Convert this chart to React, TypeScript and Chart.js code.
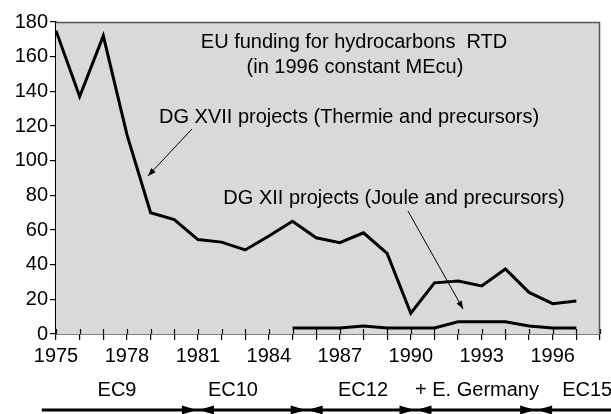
import React, { useEffect, useRef } from "react";
import { Chart, registerables } from "chart.js";

Chart.register(...registerables);

// ---- data ----
const yearsXVII = [1975, 1976, 1977, 1978, 1979, 1980, 1981, 1982, 1983, 1984, 1985, 1986, 1987, 1988, 1989, 1990, 1991, 1992, 1993, 1994, 1995, 1996, 1997];
const valuesXVII = [175, 137, 172, 115, 70, 66, 54.5, 53, 48.5, 56.5, 65, 55.5, 52.7, 58.4, 46.5, 12, 29.5, 30.6, 27.7, 37.5, 24, 17.5, 19];
const yearsXII = [1985, 1986, 1987, 1988, 1989, 1990, 1991, 1992, 1993, 1994, 1995, 1996, 1997];
const valuesXII = [3.5, 3.5, 3.5, 4.6, 3.5, 3.5, 3.5, 7, 7, 7, 4.6, 3.5, 3.5];
const labelYears = [1975, 1978, 1981, 1984, 1987, 1990, 1993, 1996];

const titleLines = ["EU funding for hydrocarbons  RTD", "(in 1996 constant MEcu)"];
const titleX = [1987.6, 1987.64];
const titleY = [167.9, 153.5];
const seriesLabels = ["DG XVII projects (Thermie and precursors)", "DG XII projects (Joule and precursors)"];
const seriesLabelX = [1987.39, 1989.29];
const seriesLabelY = [125.2, 77.9];
const arrowFromX = [1980.75, 1989.88];
const arrowFromY = [118.3, 71.0];
const arrowToX = [1978.89, 1992.21];
const arrowToY = [91.2, 14.4];

const eraNames = ["EC9", "EC10", "EC12", "+ E. Germany", "EC15"];
const eraLabelX = [1977.58, 1982.48, 1987.98, 1992.8, 1996.4];
const eraBoundaries = [1981.0, 1985.6, 1990.2, 1995.3];
const eraStart = 1974.4;

const FONT = '20px "Liberation Sans", Arial, sans-serif';

function arrowHead(ctx: CanvasRenderingContext2D, x1: number, y1: number, x2: number, y2: number, len: number, half: number) {
  const a = Math.atan2(y2 - y1, x2 - x1);
  ctx.beginPath();
  ctx.moveTo(x2, y2);
  ctx.lineTo(x2 - len * Math.cos(a) + half * Math.sin(a), y2 - len * Math.sin(a) - half * Math.cos(a));
  ctx.lineTo(x2 - len * Math.cos(a) - half * Math.sin(a), y2 - len * Math.sin(a) + half * Math.cos(a));
  ctx.closePath();
  ctx.fill();
}

const decorPlugin = {
  id: "decor",
  beforeDatasetsDraw(chart: any) {
    const { ctx, chartArea } = chart;
    const xs = chart.scales.x;
    ctx.save();
    ctx.fillStyle = "#d9d9d9";
    ctx.fillRect(chartArea.left, chartArea.top, chartArea.right - chartArea.left, chartArea.bottom - chartArea.top);
    // inner x ticks
    ctx.strokeStyle = "#000";
    ctx.lineWidth = 1.2;
    for (let yr = 1975; yr <= 1998; yr++) {
      const px = Math.round(xs.getPixelForValue(yr)) + 0.5;
      ctx.beginPath();
      ctx.moveTo(px, chartArea.bottom - 5);
      ctx.lineTo(px, chartArea.bottom);
      ctx.stroke();
    }
    // top & right border
    ctx.strokeStyle = "#555";
    ctx.lineWidth = 1.5;
    ctx.beginPath();
    ctx.moveTo(chartArea.left, chartArea.top + 0.5);
    ctx.lineTo(chartArea.right - 0.5, chartArea.top + 0.5);
    ctx.lineTo(chartArea.right - 0.5, chartArea.bottom);
    ctx.stroke();
    ctx.restore();
  },
  afterDraw(chart: any) {
    const { ctx, chartArea } = chart;
    const xs = chart.scales.x;
    const ys = chart.scales.y;
    ctx.save();
    ctx.fillStyle = "#000";
    ctx.font = FONT;
    ctx.textAlign = "center";
    ctx.textBaseline = "middle";
    titleLines.forEach((t, i) => ctx.fillText(t, xs.getPixelForValue(titleX[i]), ys.getPixelForValue(titleY[i])));
    seriesLabels.forEach((t, i) => ctx.fillText(t, xs.getPixelForValue(seriesLabelX[i]), ys.getPixelForValue(seriesLabelY[i])));
    // annotation arrows
    ctx.strokeStyle = "#000";
    ctx.lineWidth = 1;
    for (let i = 0; i < arrowFromX.length; i++) {
      const x1 = xs.getPixelForValue(arrowFromX[i]);
      const y1 = ys.getPixelForValue(arrowFromY[i]);
      const x2 = xs.getPixelForValue(arrowToX[i]);
      const y2 = ys.getPixelForValue(arrowToY[i]);
      ctx.beginPath();
      ctx.moveTo(x1, y1);
      ctx.lineTo(x2, y2);
      ctx.stroke();
      arrowHead(ctx, x1, y1, x2, y2, 8, 3);
    }
    // era labels
    const labelY = chartArea.bottom + 56;
    eraNames.forEach((t, i) => {
      ctx.textAlign = i === eraNames.length - 1 ? "left" : "center";
      ctx.fillText(t, xs.getPixelForValue(eraLabelX[i]), labelY);
    });
    // era arrows
    const ay = chartArea.bottom + 76;
    ctx.lineWidth = 3;
    ctx.beginPath();
    ctx.moveTo(xs.getPixelForValue(eraStart), ay);
    ctx.lineTo(chart.width, ay);
    ctx.stroke();
    eraBoundaries.forEach((b) => {
      const bx = xs.getPixelForValue(b);
      ctx.beginPath();
      ctx.moveTo(bx - 1, ay);
      ctx.lineTo(bx - 16, ay - 4.5);
      ctx.lineTo(bx - 16, ay + 4.5);
      ctx.closePath();
      ctx.fill();
      ctx.beginPath();
      ctx.moveTo(bx + 1, ay);
      ctx.lineTo(bx + 16, ay - 4.5);
      ctx.lineTo(bx + 16, ay + 4.5);
      ctx.closePath();
      ctx.fill();
    });
    ctx.restore();
  },
};

export default function App() {
  const ref = useRef<HTMLCanvasElement | null>(null);
  useEffect(() => {
    if (!ref.current) return;
    const chart = new Chart(ref.current, {
      type: "line",
      data: {
        datasets: [
          {
            label: "DG XVII",
            data: yearsXVII.map((x, i) => ({ x, y: valuesXVII[i] })),
            borderColor: "#000",
            borderWidth: 3,
            pointRadius: 0,
            tension: 0,
          },
          {
            label: "DG XII",
            data: yearsXII.map((x, i) => ({ x, y: valuesXII[i] })),
            borderColor: "#000",
            borderWidth: 3,
            pointRadius: 0,
            tension: 0,
          },
        ],
      },
      options: {
        animation: false,
        responsive: false,
        layout: { padding: { top: 22, right: 11, left: 0, bottom: 0 } },
        plugins: { legend: { display: false }, tooltip: { enabled: false }, title: { display: false } },
        scales: {
          x: {
            type: "linear",
            min: 1975,
            max: 1998,
            afterFit: (s: any) => { s.height = 80; },
            ticks: {
              stepSize: 1,
              autoSkip: false,
              maxRotation: 0,
              color: "#000",
              font: { family: '"Liberation Sans", Arial, sans-serif', size: 20 },
              padding: 4,
              callback: (v: any) => (labelYears.includes(Number(v)) ? String(v) : ""),
            },
            grid: { drawOnChartArea: false, tickLength: 6, color: "#000", lineWidth: 1.2 },
            border: { color: "#000", width: 1.5 },
          },
          y: {
            min: 0,
            max: 180,
            afterFit: (s: any) => { s.width = 56; },
            ticks: {
              stepSize: 20,
              color: "#000",
              font: { family: '"Liberation Sans", Arial, sans-serif', size: 20 },
              padding: 2,
            },
            grid: { drawOnChartArea: false, tickLength: 6, color: "#000", lineWidth: 1.2 },
            border: { color: "#000", width: 1.5 },
          },
        },
      },
      plugins: [decorPlugin],
    });
    return () => chart.destroy();
  }, []);
  return (
    <div style={{ position: "absolute", left: 0, top: 0, width: 611, height: 414, background: "#fff" }}>
      <canvas ref={ref} width={611} height={414} style={{ display: "block" }} />
    </div>
  );
}
